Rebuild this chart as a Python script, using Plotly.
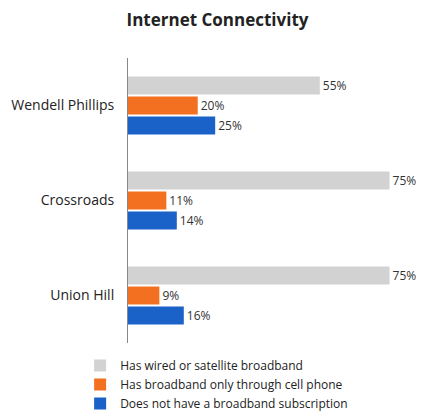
import plotly.graph_objects as go

categories = ["Wendell Phillips", "Crossroads", "Union Hill"]
series_names = [
    "Has wired or satellite broadband",
    "Has broadband only through cell phone",
    "Does not have a broadband subscription",
]
wired = [55, 75, 75]
cell_only = [20, 11, 9]
no_broadband = [25, 14, 16]

colors = ["#d2d2d2", "#f37021", "#1a62c8"]
values = [wired, cell_only, no_broadband]

fig = go.Figure()
for name, vals, col in zip(series_names, values, colors):
    fig.add_trace(go.Bar(
        y=categories, x=vals, name=name, orientation="h",
        marker=dict(color=col, line=dict(width=0)),
        text=[f"{v}%" for v in vals], textposition="outside",
        textfont=dict(size=12, color="#333333"),
        cliponaxis=False,
    ))

fig.update_layout(
    width=419, height=405,
    barmode="group", bargap=0.37, bargroupgap=0.1,
    paper_bgcolor="white", plot_bgcolor="white",
    font=dict(family="Open Sans, Liberation Sans, sans-serif", color="#222222"),
    title=dict(text="<b>Internet Connectivity</b>", x=0.5, xanchor="center",
               xref="container", y=1 - 12 / 405, yanchor="middle",
               font=dict(size=17, color="#222222")),
    margin=dict(l=120, r=27, t=50, b=70, autoexpand=False),
    showlegend=True,
    legend=dict(orientation="v", x=-0.176, y=-0.028, xanchor="left", yanchor="top",
                font=dict(size=12, color="#222222"), itemwidth=30,
                tracegroupgap=0, bgcolor="rgba(0,0,0,0)"),
    xaxis=dict(range=[0, 78], showgrid=False, showticklabels=False, zeroline=False,
               showline=False, ticks="", automargin=False),
    yaxis=dict(autorange="reversed", showgrid=False, showline=True,
               linecolor="#888888", linewidth=1, ticks="", automargin=False,
               ticklabelstandoff=10,
               tickfont=dict(size=14, color="#222222")),
)

fig.write_html("out.html")
